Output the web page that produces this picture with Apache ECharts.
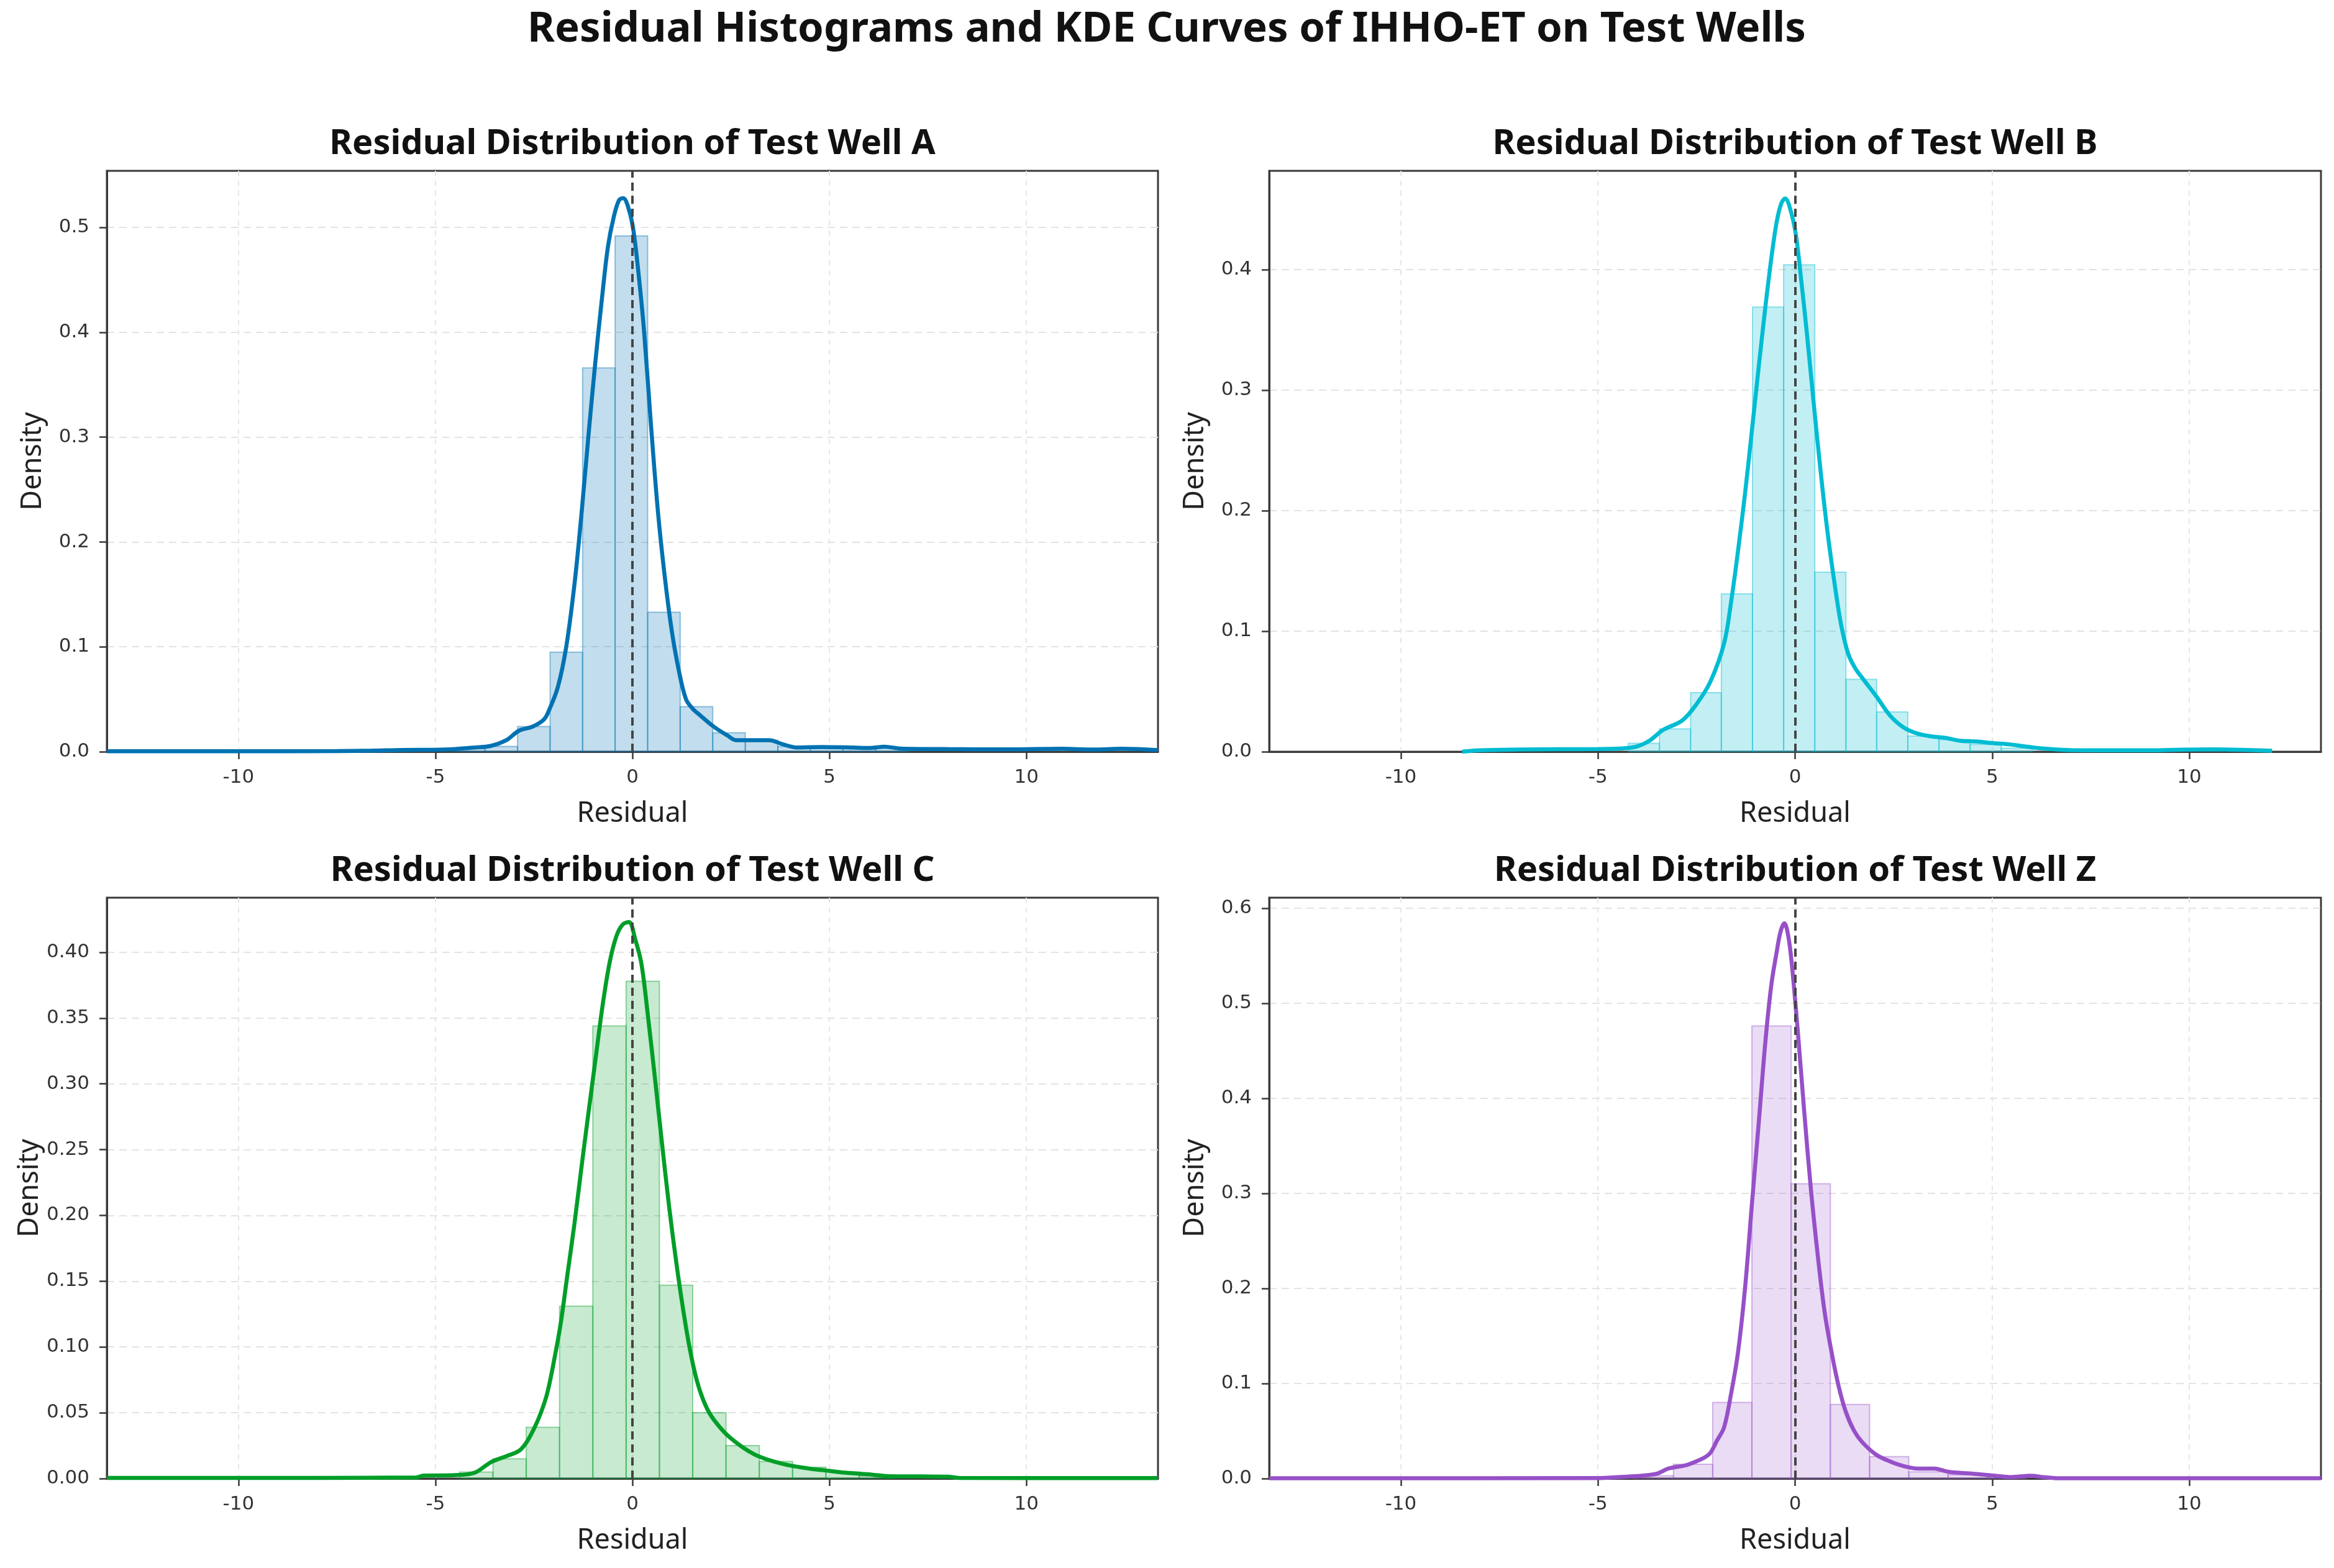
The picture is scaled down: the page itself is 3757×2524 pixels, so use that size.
<!DOCTYPE html>
<html>
<head>
<meta charset="utf-8">
<script src="https://cdn.jsdelivr.net/npm/echarts@6/dist/echarts.min.js"></script>
<style>
html,body{margin:0;padding:0;background:#fff;}
#chart{width:3757px;height:2524px;}
</style>
</head>
<body>
<div id="chart"></div>
<script>
// ---------------- DATA ----------------
const mainTitle = 'Residual Histograms and KDE Curves of IHHO-ET on Test Wells';
const wellNames = ['A', 'B', 'C', 'Z'];
const xTicks = [-10, -5, 0, 5, 10];

// histogram bin edges and densities
const edgesA = [-4.566, -3.74, -2.915, -2.09, -1.265, -0.44, 0.386, 1.212, 2.038, 2.864, 3.69, 4.516, 5.342, 6.168, 6.994];
const densA  = [0.003, 0.005, 0.024, 0.095, 0.366, 0.492, 0.133, 0.043, 0.018, 0.011, 0.005, 0.004, 0.003, 0.004];

const edgesB = [-4.23, -3.44, -2.65, -1.87, -1.08, -0.29, 0.50, 1.29, 2.07, 2.86, 3.65, 4.44, 5.23, 6.02];
const densB  = [0.007, 0.019, 0.049, 0.131, 0.369, 0.404, 0.149, 0.060, 0.033, 0.013, 0.010, 0.006, 0.003];

const edgesC = [-4.385, -3.54, -2.695, -1.85, -1.005, -0.16, 0.685, 1.53, 2.375, 3.22, 4.065, 4.91, 5.755, 6.6];
const densC  = [0.005, 0.015, 0.039, 0.131, 0.344, 0.378, 0.147, 0.050, 0.025, 0.013, 0.0086, 0.005, 0.002];

const edgesZ = [-4.08, -3.085, -2.09, -1.095, -0.1, 0.895, 1.89, 2.885, 3.88, 4.875, 5.87];
const densZ  = [0.003, 0.015, 0.080, 0.476, 0.310, 0.078, 0.023, 0.007, 0.004, 0.002];

// KDE curves (x, density)
const kdeXA = [-13.34, -10, -7.5, -6.6, -5.8, -5.0, -4.5, -4.0, -3.6, -3.2, -2.88, -2.53, -2.24, -2.1, -1.89, -1.68, -1.47, -1.29, -1.11, -0.94, -0.76, -0.62, -0.48, -0.34, -0.23, -0.13, 0.01, 0.155, 0.30, 0.47, 0.65, 0.83, 1.0, 1.18, 1.36, 1.53, 1.71, 2.06, 2.41, 2.63, 3.0, 3.47, 3.82, 4.18, 4.8, 5.6, 6.0, 6.4, 6.8, 8.0, 9.5, 10.9, 11.7, 12.4, 13.34];
const kdeYA = [0.0005, 0.0005, 0.0006, 0.001, 0.0017, 0.0018, 0.0025, 0.004, 0.0055, 0.011, 0.020, 0.024, 0.031, 0.041, 0.062, 0.10, 0.16, 0.228, 0.304, 0.372, 0.437, 0.482, 0.509, 0.526, 0.528, 0.522, 0.501, 0.456, 0.399, 0.312, 0.228, 0.164, 0.115, 0.077, 0.050, 0.041, 0.035, 0.024, 0.0155, 0.011, 0.011, 0.011, 0.007, 0.004, 0.0045, 0.004, 0.0035, 0.0048, 0.003, 0.0025, 0.0022, 0.0028, 0.002, 0.0028, 0.0015];

const kdeXB = [-8.45, -8.0, -7.0, -6.0, -5.0, -4.5, -4.05, -3.7, -3.35, -2.86, -2.51, -2.15, -1.80, -1.62, -1.45, -1.27, -1.10, -0.92, -0.75, -0.60, -0.47, -0.35, -0.25, -0.12, 0.02, 0.16, 0.30, 0.47, 0.65, 0.82, 1.0, 1.17, 1.35, 1.53, 1.71, 2.06, 2.41, 2.76, 3.11, 3.5, 3.81, 4.2, 4.6, 5.0, 5.46, 5.8, 6.3, 7.0, 8.0, 9.0, 9.8, 10.6, 11.3, 12.1];
const kdeYB = [0.0, 0.0012, 0.0018, 0.002, 0.0022, 0.0026, 0.004, 0.009, 0.018, 0.026, 0.039, 0.058, 0.09, 0.125, 0.166, 0.214, 0.265, 0.32, 0.37, 0.41, 0.439, 0.455, 0.459, 0.45, 0.429, 0.39, 0.347, 0.29, 0.232, 0.183, 0.14, 0.105, 0.081, 0.069, 0.061, 0.046, 0.03, 0.02, 0.015, 0.0125, 0.0115, 0.009, 0.0085, 0.0072, 0.006, 0.0045, 0.0026, 0.0013, 0.0012, 0.0012, 0.0017, 0.0019, 0.0016, 0.0008];

const kdeXC = [-13.34, -8, -5.5, -5.3, -4.5, -4.0, -3.59, -3.2, -2.88, -2.7, -2.53, -2.35, -2.17, -2.0, -1.82, -1.65, -1.47, -1.3, -1.12, -0.94, -0.76, -0.58, -0.41, -0.25, -0.09, 0.07, 0.23, 0.40, 0.58, 0.75, 0.93, 1.11, 1.29, 1.46, 1.64, 1.85, 2.06, 2.48, 3.12, 3.83, 4.5, 4.89, 5.4, 6.07, 6.5, 7.3, 8.0, 8.3, 13.34];
const kdeYC = [0.0005, 0.0005, 0.0008, 0.0022, 0.0026, 0.0045, 0.0125, 0.017, 0.021, 0.027, 0.036, 0.048, 0.064, 0.088, 0.118, 0.155, 0.194, 0.235, 0.277, 0.318, 0.359, 0.392, 0.412, 0.421, 0.423, 0.41, 0.391, 0.35, 0.302, 0.255, 0.207, 0.165, 0.128, 0.098, 0.074, 0.056, 0.045, 0.031, 0.018, 0.011, 0.0075, 0.0062, 0.0045, 0.003, 0.0018, 0.0016, 0.0014, 0.0005, 0.0003];

const kdeXZ = [-13.34, -5.0, -4.5, -3.9, -3.5, -3.21, -2.77, -2.51, -2.3, -2.15, -1.98, -1.80, -1.62, -1.45, -1.27, -1.10, -0.92, -0.75, -0.6, -0.47, -0.37, -0.27, -0.17, -0.08, 0.07, 0.23, 0.40, 0.58, 0.75, 0.93, 1.1, 1.28, 1.5, 1.71, 2.06, 2.41, 2.76, 3.11, 3.53, 3.9, 4.43, 5.12, 5.46, 5.98, 6.3, 6.7, 13.34];
const kdeYZ = [0.0003, 0.0005, 0.0015, 0.003, 0.0052, 0.0105, 0.014, 0.018, 0.022, 0.027, 0.04, 0.054, 0.09, 0.132, 0.2, 0.286, 0.375, 0.461, 0.52, 0.553, 0.575, 0.584, 0.57, 0.54, 0.47, 0.387, 0.305, 0.233, 0.175, 0.132, 0.098, 0.071, 0.05, 0.038, 0.025, 0.018, 0.013, 0.0105, 0.0105, 0.007, 0.0054, 0.0028, 0.0015, 0.003, 0.0015, 0.0003, 0.0003];

// axis ranges and ticks
const xMin = -13.34, xMax = 13.34;
const yMaxes = [0.554, 0.482, 0.4415, 0.611];
const yTicksA = [0, 0.1, 0.2, 0.3, 0.4, 0.5];
const yTicksB = [0, 0.1, 0.2, 0.3, 0.4];
const yTicksC = [0, 0.05, 0.10, 0.15, 0.20, 0.25, 0.30, 0.35, 0.40];
const yTicksZ = [0, 0.1, 0.2, 0.3, 0.4, 0.5, 0.6];
const yDecimals = [1, 1, 2, 1];

// ---------------- STYLE ----------------
const colors = ['#0072B2', '#00BCD2', '#009E28', '#9650C8'];
const fillAlpha = [0.24, 0.24, 0.22, 0.2];
const grids = [
  {left: 172, top: 275, width: 1692, height: 935},
  {left: 2043, top: 275, width: 1693, height: 935},
  {left: 172, top: 1445, width: 1692, height: 935},
  {left: 2043, top: 1445, width: 1693, height: 935}
];

function hexToRgba(hex, a) {
  const n = parseInt(hex.slice(1), 16);
  return 'rgba(' + ((n >> 16) & 255) + ',' + ((n >> 8) & 255) + ',' + (n & 255) + ',' + a + ')';
}

const edgesAll = [edgesA, edgesB, edgesC, edgesZ];
const densAll = [densA, densB, densC, densZ];
const kdeXAll = [kdeXA, kdeXB, kdeXC, kdeXZ];
const kdeYAll = [kdeYA, kdeYB, kdeYC, kdeYZ];
const yTicksAll = [yTicksA, yTicksB, yTicksC, yTicksZ];

const titleFont = 'Noto Sans';
const tickFont = 'DejaVu Sans';

const option = {
  backgroundColor: '#ffffff',
  animation: false,
  title: [{
    text: mainTitle,
    left: 1878, top: 48,
    textAlign: 'center', textVerticalAlign: 'middle', padding: 0,
    textStyle: {fontFamily: titleFont, fontWeight: 'bold', fontSize: 67, color: '#111'}
  }],
  grid: [], xAxis: [], yAxis: [], series: []
};

for (let i = 0; i < 4; i++) {
  const g = grids[i];
  option.grid.push(Object.assign({show: true, borderColor: '#3a3a3a', borderWidth: 3, backgroundColor: 'transparent', containLabel: false}, g));
  option.title.push({
    text: 'Residual Distribution of Test Well ' + wellNames[i],
    left: g.left + g.width / 2, top: g.top - 43,
    textAlign: 'center', textVerticalAlign: 'middle', padding: 0,
    textStyle: {fontFamily: titleFont, fontWeight: 'bold', fontSize: 56, color: '#111'}
  });
  option.xAxis.push({
    type: 'value', gridIndex: i, min: xMin, max: xMax,
    name: 'Residual', nameLocation: 'middle', nameGap: 78,
    nameTextStyle: {fontFamily: titleFont, fontSize: 45, color: '#222'},
    axisLine: {show: true, onZero: false, lineStyle: {color: '#3a3a3a', width: 3}},
    axisTick: {show: true, length: 12, customValues: xTicks, lineStyle: {color: '#3a3a3a', width: 2.5}},
    axisLabel: {show: true, customValues: xTicks, margin: 26, fontFamily: tickFont, fontSize: 31, color: '#333', formatter: v => String(v)},
    splitLine: {show: true, lineStyle: {color: '#e6e6e6', width: 2, type: [8, 8]}}
  });
  const dec = yDecimals[i];
  option.yAxis.push({
    type: 'value', gridIndex: i, min: 0, max: yMaxes[i],
    name: 'Density', nameLocation: 'middle', nameGap: 96, nameRotate: 90,
    nameTextStyle: {fontFamily: titleFont, fontSize: 45, color: '#222'},
    axisLine: {show: true, onZero: false, lineStyle: {color: '#3a3a3a', width: 3}},
    axisTick: {show: true, length: 12, customValues: yTicksAll[i], lineStyle: {color: '#3a3a3a', width: 2.5}},
    axisLabel: {show: true, customValues: yTicksAll[i], margin: 28, fontFamily: tickFont, fontSize: 31, color: '#333', formatter: v => v.toFixed(dec)},
    splitLine: {show: true, lineStyle: {color: '#e3e3e3', width: 2, type: [12, 8]}}
  });

  // histogram
  const edges = edgesAll[i], dens = densAll[i];
  const histData = dens.map((d, k) => [edges[k], edges[k + 1], d]);
  const fill = hexToRgba(colors[i], fillAlpha[i]);
  const stroke = hexToRgba(colors[i], 0.4);
  option.series.push({
    type: 'custom', xAxisIndex: i, yAxisIndex: i, z: 2,
    encode: {x: [0, 1], y: 2},
    data: histData,
    renderItem: function (params, api) {
      const p0 = api.coord([api.value(0), api.value(2)]);
      const p1 = api.coord([api.value(1), 0]);
      return {
        type: 'rect',
        shape: {x: p0[0], y: p0[1], width: p1[0] - p0[0], height: p1[1] - p0[1]},
        style: {fill: fill, stroke: stroke, lineWidth: 2}
      };
    }
  });
  // KDE curve
  const kx = kdeXAll[i], ky = kdeYAll[i];
  option.series.push({
    type: 'line', xAxisIndex: i, yAxisIndex: i, z: 4,
    data: kx.map((x, k) => [x, ky[k]]),
    showSymbol: false, symbol: 'none', smooth: 0.35,
    lineStyle: {color: colors[i], width: 6.5},
    markLine: {
      silent: true, symbol: 'none', animation: false,
      label: {show: false},
      lineStyle: {color: '#444', width: 4, type: [13, 8]},
      data: [{xAxis: 0}]
    }
  });
}

const chart = echarts.init(document.getElementById('chart'), null, {renderer: 'canvas'});
chart.setOption(option);
</script>
</body>
</html>
